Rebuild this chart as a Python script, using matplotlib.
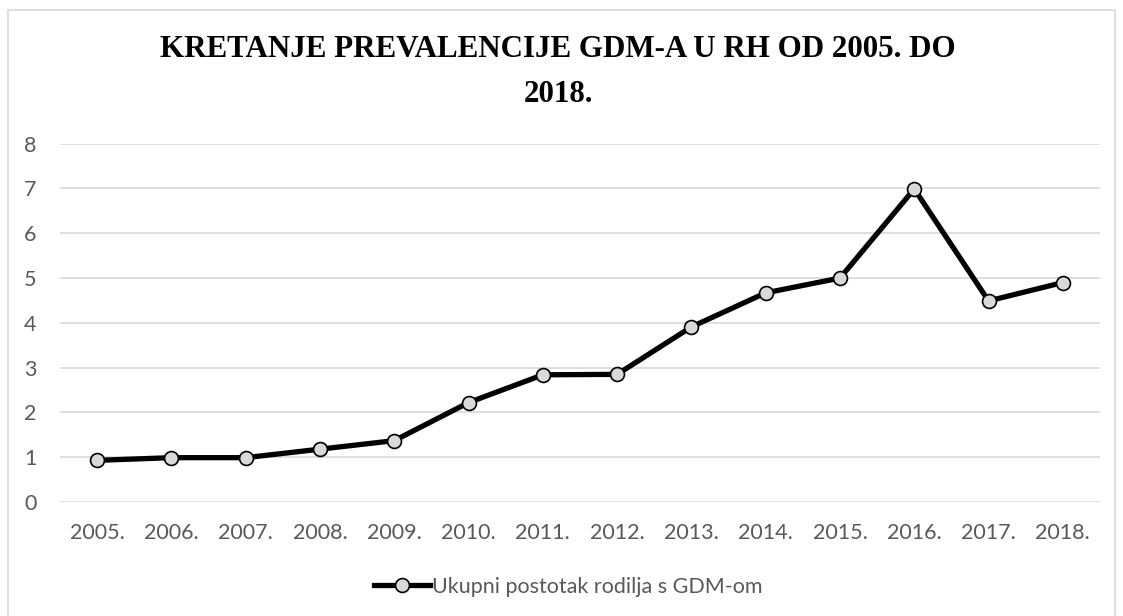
import matplotlib
matplotlib.use("Agg")
import matplotlib.pyplot as plt
from matplotlib.lines import Line2D
from matplotlib.patches import Rectangle

# ---- podaci ----
godine = ["2005.", "2006.", "2007.", "2008.", "2009.", "2010.", "2011.",
          "2012.", "2013.", "2014.", "2015.", "2016.", "2017.", "2018."]
postotak = [0.93, 0.99, 0.99, 1.18, 1.37, 2.22, 2.84,
            2.85, 3.91, 4.67, 5.0, 6.99, 4.49, 4.9]
y_ticks = [0, 1, 2, 3, 4, 5, 6, 7, 8]

naslov = "KRETANJE PREVALENCIJE GDM-A U RH OD 2005. DO\n2018."
legenda = "Ukupni postotak rodilja s GDM-om"

GRID = "#D9D9D9"
TXT = "#595959"
FONT = "Lato"

fig = plt.figure(figsize=(11.23, 6.16), dpi=100)
W, H = 1123, 616

# okvir grafikona
fig.patches.append(Rectangle((7.5 / W, -0.05), (1115 - 7.5) / W, 1.05 - 10 / H,
                             transform=fig.transFigure, fill=False,
                             edgecolor=GRID, linewidth=1.2))

ax = fig.add_axes([60 / W, (H - 502) / H, (1100 - 60) / W, (502 - 143.7) / H])
x = list(range(len(godine)))
ax.plot(x, postotak, color="black", linewidth=3.8, marker="o", markersize=10,
        markerfacecolor="#D9D9D9", markeredgecolor="black", markeredgewidth=1.2,
        zorder=3, label=legenda)

ax.set_xlim(-0.5, len(godine) - 0.5)
ax.set_ylim(0, 8)
ax.set_yticks(y_ticks)
ax.set_xticks(x)
ax.set_xticklabels(godine)
ax.yaxis.grid(True, color=GRID, linewidth=1.2)
ax.set_axisbelow(True)
for s in ax.spines.values():
    s.set_visible(False)
ax.tick_params(axis="both", length=0, labelsize=15.5, labelcolor=TXT)
ax.tick_params(axis="y", pad=17)
ax.tick_params(axis="x", pad=15)
for lbl in ax.get_xticklabels() + ax.get_yticklabels():
    lbl.set_fontfamily(FONT)

fig.text(0.497, (H - 72) / H, naslov, ha="center", va="center",
         fontsize=22.3, fontweight="bold", family="Liberation Serif",
         linespacing=1.75, color="black")

handle = Line2D([], [], color="black", linewidth=3.8, marker="o", markersize=10,
                markerfacecolor="#D9D9D9", markeredgecolor="black", markeredgewidth=1.2)
fig.legend([handle], [legenda], loc="center", bbox_to_anchor=(568 / W, (H - 587) / H),
           frameon=False, handlelength=2.6, handletextpad=0.1,
           prop={"family": FONT, "size": 15.5}, labelcolor=TXT)

fig.savefig("out.png", dpi=100)
